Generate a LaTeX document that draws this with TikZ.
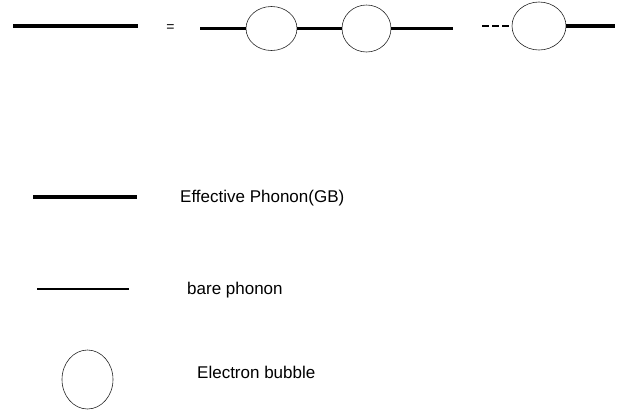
\documentclass[tikz,border=0pt]{standalone}
\usepackage{fontspec}
\setmainfont{Liberation Sans}
\usetikzlibrary{shapes.geometric}
\begin{document}
\begin{tikzpicture}[x=1pt,y=-1pt,
  bubble/.style={draw=black!85,line width=0.6pt,ellipse,inner sep=0pt},
  effline/.style={line width=4pt},
  bareline/.style={line width=2.6pt},
  dashline/.style={line width=2pt,dash pattern=on 7pt off 3pt},
  lbl/.style={anchor=west,inner sep=0pt,font=\fontsize{17}{20}\selectfont}]
\useasboundingbox (0,0) rectangle (626,416);
% top row
\coordinate (e1) at (13,26);
\coordinate (e2) at (138,26);
\draw[effline] (e1) -- (e2);
\node[inner sep=0pt,font=\fontsize{14}{16}\selectfont] (eq) at (170.5,28.5) {=};
\node[bubble,minimum width=51pt,minimum height=44pt] (b1) at (271.5,28.5) {};
\node[bubble,minimum width=49pt,minimum height=47pt] (b2) at (366.5,28.5) {};
\node[bubble,minimum width=54pt,minimum height=48pt] (b3) at (539,26) {};
\coordinate (l1) at (200,28.5);
\coordinate (l2) at (453,28.5);
\coordinate (d1) at (482,26);
\coordinate (r1) at (615,26);
\draw[line width=3pt] (l1) -- (b1.west);
\draw[line width=3pt] (b1.east) -- (b2.west);
\draw[line width=3pt] (b2.east) -- (l2);
\draw[dashline] (d1) -- (b3.west);
\draw[line width=3.2pt] (b3.east) -- (r1);
% legend
\coordinate (g1) at (33,197);
\coordinate (g2) at (137,197);
\draw[effline] (g1) -- (g2);
\node[lbl] (t1) at (180,198) {Effective Phonon(GB)};
\coordinate (h1) at (37,289);
\coordinate (h2) at (129,289);
\draw[bareline] (h1) -- (h2);
\node[lbl] (t2) at (187,290) {bare phonon};
\node[bubble,minimum width=51pt,minimum height=59pt] (b4) at (87.5,379.5) {};
\node[lbl] (t3) at (197,372) {Electron bubble};
\end{tikzpicture}
\end{document}
